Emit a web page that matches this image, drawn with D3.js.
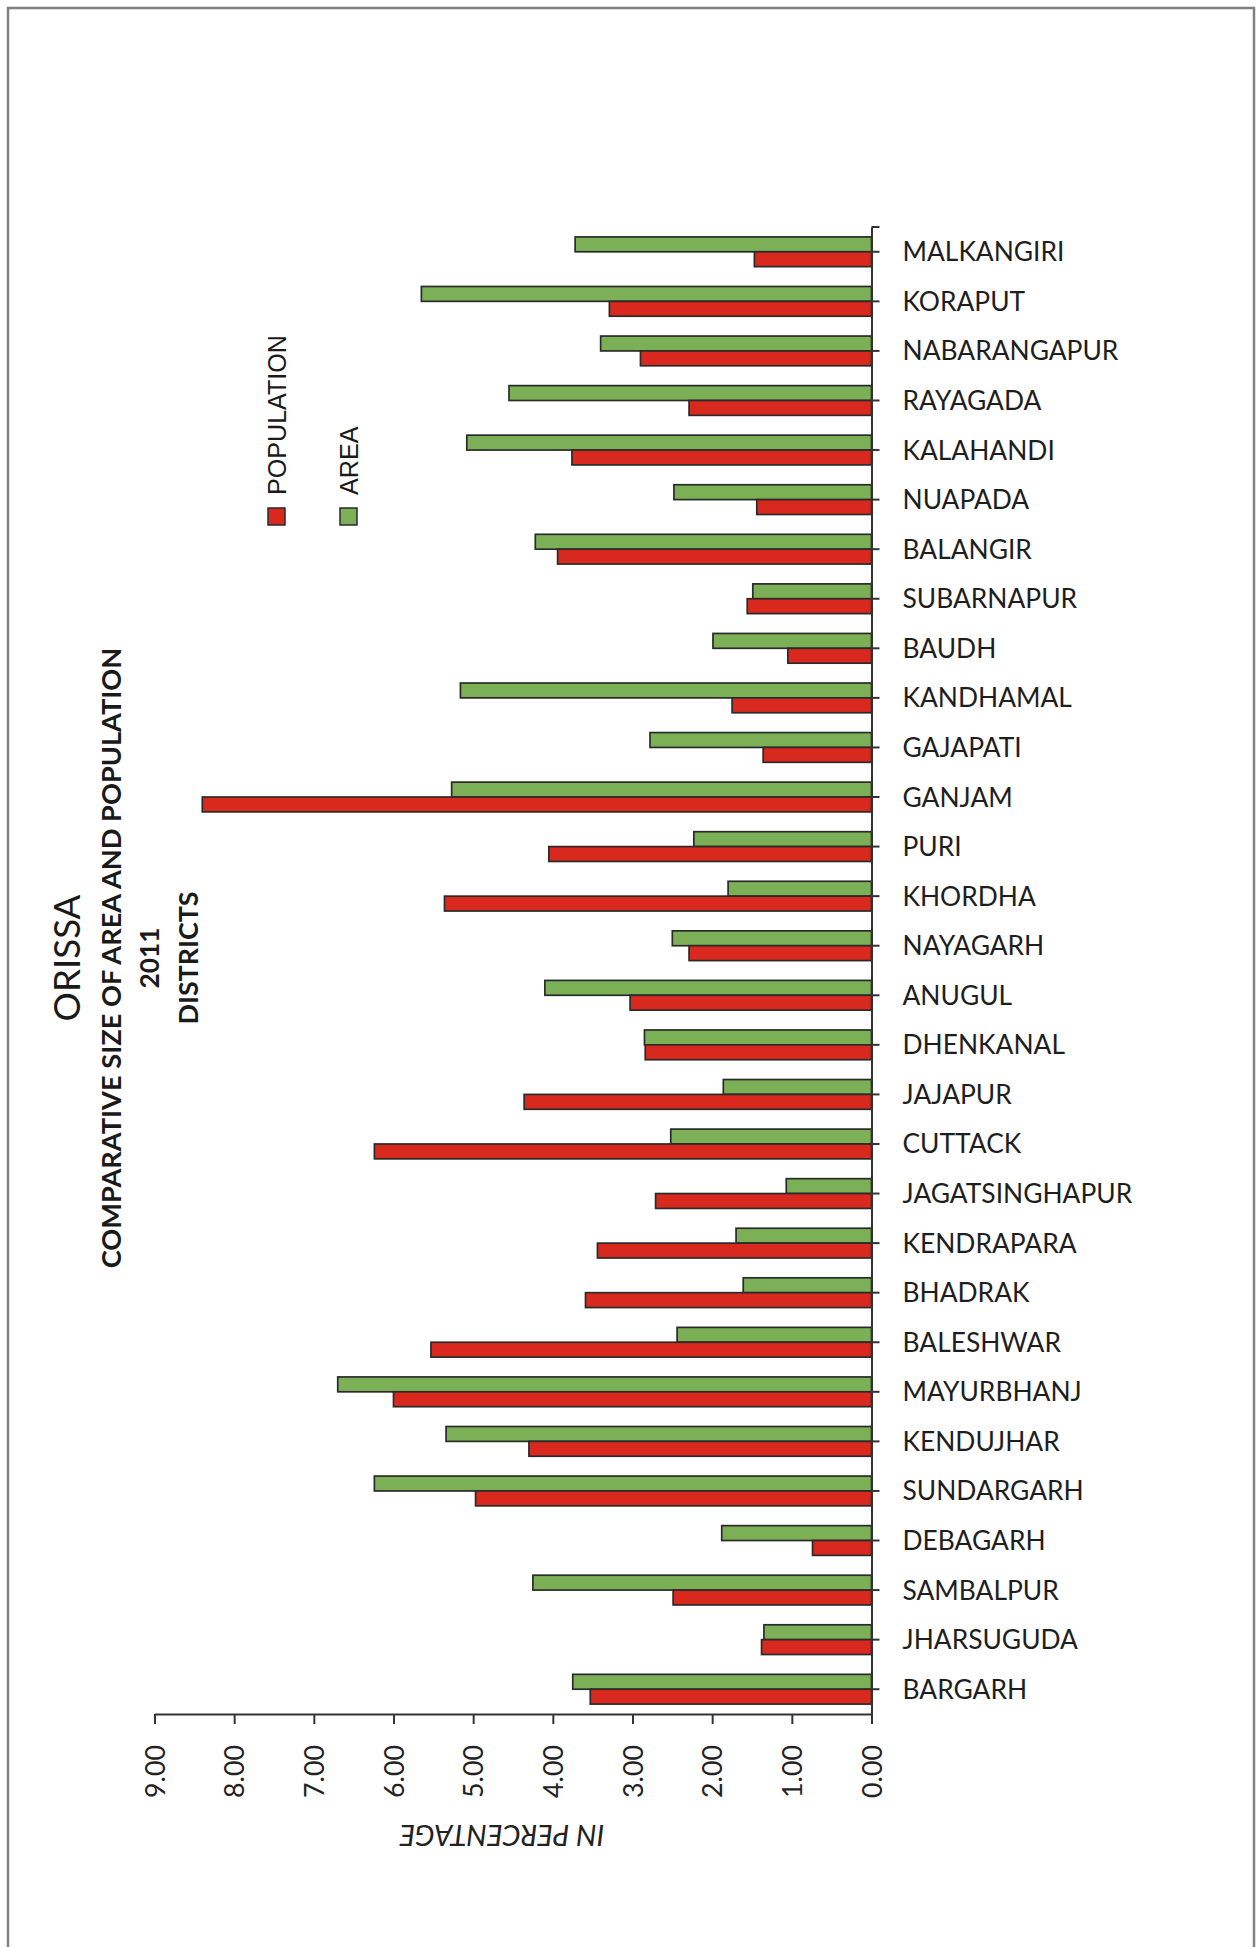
<!DOCTYPE html>
<html>
<head>
<meta charset="utf-8">
<script src="https://cdn.jsdelivr.net/npm/d3@7"></script>
<style>
  html, body { margin: 0; padding: 0; background: #fff; }
  svg { display: block; }
</style>
</head>
<body>
<script>
// Districts of Orissa, listed top to bottom as drawn
const districts = [
  "MALKANGIRI", "KORAPUT", "NABARANGAPUR", "RAYAGADA", "KALAHANDI", "NUAPADA",
  "BALANGIR", "SUBARNAPUR", "BAUDH", "KANDHAMAL", "GAJAPATI", "GANJAM", "PURI",
  "KHORDHA", "NAYAGARH", "ANUGUL", "DHENKANAL", "JAJAPUR", "CUTTACK",
  "JAGATSINGHAPUR", "KENDRAPARA", "BHADRAK", "BALESHWAR", "MAYURBHANJ",
  "KENDUJHAR", "SUNDARGARH", "DEBAGARH", "SAMBALPUR", "JHARSUGUDA", "BARGARH"
];

// Share of state area (%)
const areaPct = [
  3.72, 5.65, 3.40, 4.55, 5.08, 2.48, 4.22, 1.49, 1.99, 5.16, 2.78, 5.27, 2.23,
  1.80, 2.50, 4.10, 2.85, 1.86, 2.52, 1.07, 1.70, 1.61, 2.44, 6.70, 5.34, 6.24,
  1.88, 4.25, 1.35, 3.75
];

// Share of state population, 2011 (%)
const populationPct = [
  1.47, 3.29, 2.90, 2.29, 3.76, 1.44, 3.94, 1.56, 1.05, 1.75, 1.36, 8.40, 4.05,
  5.36, 2.29, 3.03, 2.84, 4.36, 6.24, 2.71, 3.44, 3.59, 5.53, 6.00, 4.30, 4.97,
  0.74, 2.49, 1.38, 3.53
];

const valueTicks = [0, 1, 2, 3, 4, 5, 6, 7, 8, 9];
const seriesNames = ["AREA", "POPULATION"];
const seriesColors = { AREA: "#7cb057", POPULATION: "#d9291e" };
const titleLines = ["ORISSA", "COMPARATIVE SIZE OF AREA AND POPULATION", "2011", "DISTRICTS"];
const axisTitle = "IN PERCENTAGE";

const W = 1257, H = 1947;
const calibriLike = "Lato, 'Open Sans', sans-serif";
const arialLike = "'Liberation Sans', Arial, sans-serif";

const svg = d3.select("body").append("svg")
  .attr("width", W).attr("height", H);

// page frame (open at the bottom edge)
svg.append("rect")
  .attr("x", 8).attr("y", 8)
  .attr("width", 1246).attr("height", 2100)
  .attr("fill", "none").attr("stroke", "#808080").attr("stroke-width", 2.5);

// scale a text node so its rendered length equals `target`
function fitText(sel, target) {
  const fs = parseFloat(sel.style("font-size"));
  const len = sel.node().getComputedTextLength();
  const nfs = fs * target / len;
  sel.style("font-size", nfs + "px");
  return nfs;
}

const x = d3.scaleLinear().domain([0, 9]).range([871.5, 154.5]);
const y = d3.scaleBand().domain(districts).range([227, 1714])
  .paddingInner(0.4).paddingOuter(0.2);
const ySub = d3.scaleBand().domain(seriesNames).range([0, y.bandwidth()]);

const rows = districts.map((d, i) => ({
  district: d,
  values: [
    { key: "AREA", v: areaPct[i] },
    { key: "POPULATION", v: populationPct[i] }
  ]
}));

// bars
const plot = svg.append("g");
plot.selectAll("g.row").data(rows).join("g")
  .attr("class", "row")
  .attr("transform", d => `translate(0,${y(d.district)})`)
  .selectAll("rect").data(d => d.values).join("rect")
    .attr("x", d => x(d.v))
    .attr("y", d => ySub(d.key))
    .attr("width", d => x(0) - x(d.v))
    .attr("height", ySub.bandwidth())
    .attr("fill", d => seriesColors[d.key])
    .attr("stroke", "#2a2a2a")
    .attr("stroke-width", 1.7);

// value axis along the bottom, labels turned upright
const axisY = 1714;
const xAxis = svg.append("g")
  .attr("transform", `translate(0,${axisY})`)
  .call(d3.axisBottom(x).tickValues(valueTicks).tickSize(10).tickSizeOuter(0)
    .tickFormat(d => d.toFixed(2)));
xAxis.select(".domain").attr("stroke", "#333").attr("stroke-width", 2);
xAxis.selectAll(".tick line").attr("stroke", "#333").attr("stroke-width", 2);
const xLabels = xAxis.selectAll(".tick text")
  .attr("transform", "rotate(-90)")
  .attr("text-anchor", "end")
  .attr("x", -31)
  .attr("y", 0)
  .attr("dy", "0.36em")
  .attr("fill", "#222")
  .style("font-family", calibriLike)
  .style("font-size", "27px");
const tickFs = fitText(d3.select(xLabels.nodes()[9]), 53);
xLabels.style("font-size", tickFs + "px");

// category axis on the right side of the bars
const yAxis = svg.append("g")
  .attr("transform", `translate(${x(0)},0)`)
  .call(d3.axisRight(y).tickSize(8).tickSizeOuter(0).tickPadding(23));
yAxis.select(".domain").attr("stroke", "#333").attr("stroke-width", 2);
yAxis.selectAll(".tick line").attr("stroke", "#333").attr("stroke-width", 2);
const yLabels = yAxis.selectAll(".tick text")
  .attr("fill", "#1e1e1e")
  .attr("dy", "0.36em")
  .style("font-family", calibriLike)
  .style("font-size", "26px");
const catFs = fitText(d3.select(yLabels.nodes()[0]), 162);
yLabels.style("font-size", catFs + "px");
// end cap at the top of the category axis
yAxis.append("line")
  .attr("x1", 0).attr("x2", 8)
  .attr("y1", y.range()[0]).attr("y2", y.range()[0])
  .attr("stroke", "#333").attr("stroke-width", 2);

// value axis title, turned upside down
const at = svg.append("text")
  .attr("transform", "translate(502,1836) rotate(180)")
  .attr("text-anchor", "middle")
  .attr("dominant-baseline", "central")
  .attr("fill", "#222")
  .style("font-family", calibriLike)
  .style("font-style", "italic")
  .style("font-size", "26px")
  .text(axisTitle);
fitText(at, 205);

// title block, read bottom to top
const titleSpec = [
  { cx: 66, len: 127, weight: 400 },
  { cx: 110, len: 621, weight: 700 },
  { cx: 149, len: 61, weight: 700 },
  { cx: 188, len: 133, weight: 700 }
];
titleLines.forEach((t, i) => {
  const s = titleSpec[i];
  const el = svg.append("text")
    .attr("transform", `translate(${s.cx},958) rotate(-90)`)
    .attr("text-anchor", "middle")
    .attr("dominant-baseline", "central")
    .attr("fill", "#1a1a1a")
    .style("font-family", calibriLike)
    .style("font-weight", s.weight)
    .style("font-size", "26px")
    .text(t);
  fitText(el, s.len);
});

// legend
const legendItems = [
  { key: "POPULATION", sx: 268, len: 160 },
  { key: "AREA", sx: 340, len: 62 }
];
let legendFs = null;
legendItems.forEach((it, i) => {
  svg.append("rect")
    .attr("x", it.sx).attr("y", 508)
    .attr("width", 17).attr("height", 17)
    .attr("fill", seriesColors[it.key])
    .attr("stroke", "#2a2a2a").attr("stroke-width", 1.5);
  const el = svg.append("text")
    .attr("transform", `translate(${it.sx + 8.5},495) rotate(-90)`)
    .attr("text-anchor", "start")
    .attr("dominant-baseline", "central")
    .attr("fill", "#1a1a1a")
    .style("font-family", arialLike)
    .style("font-size", "25px")
    .text(it.key);
  if (i === 0) legendFs = fitText(el, it.len);
  else el.style("font-size", legendFs + "px");
});
</script>
</body>
</html>
